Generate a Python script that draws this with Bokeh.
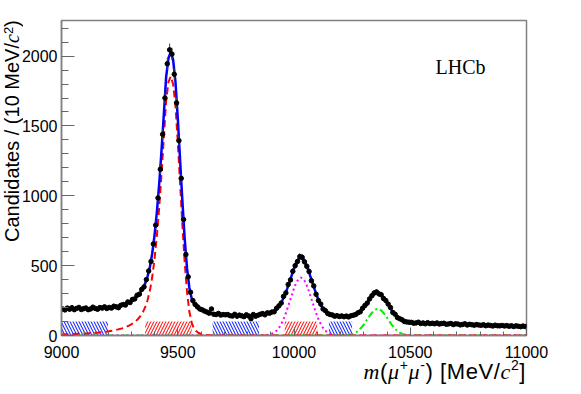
import math
from bokeh.plotting import figure
from bokeh.models import Label, SingleIntervalTicker, Range1d, Div
from bokeh.layouts import column
from bokeh.embed import file_html
from bokeh.resources import INLINE

# ---------------- data ----------------
bin_centers = list(range(9005, 11000, 10))
data_counts = [
    190, 183, 196, 188, 199, 185, 194, 201, 186, 192,
    197, 185, 190, 203, 194, 188, 200, 196, 205, 193,
    201, 196, 210, 205, 199, 216, 222, 218, 240, 236,
    258, 262, 288, 296, 330, 348, 400, 462, 530, 655,
    790, 985, 1190, 1440, 1700, 1945, 2045, 2015, 1870, 1665,
    1395, 1125, 830, 580, 420, 310, 250, 222, 205, 190,
    184, 175, 168, 160, 190, 152, 150, 158, 146, 150,
    148, 150, 142, 139, 152, 138, 146, 141, 135, 148,
    140, 120, 150, 138, 145, 152, 157, 148, 162, 160,
    168, 170, 195, 212, 232, 280, 305, 365, 398, 460,
    500, 530, 565, 560, 528, 495, 458, 392, 355, 295,
    250, 225, 190, 178, 158, 150, 147, 138, 142, 136,
    140, 134, 139, 133, 141, 145, 150, 162, 170, 195,
    215, 232, 262, 285, 305, 312, 298, 292, 265, 250,
    225, 200, 165, 152, 128, 120, 112, 100, 97, 95,
    94, 88, 90, 95, 86, 90, 84, 92, 85, 88,
    84, 90, 82, 86, 88, 80, 83, 86, 78, 84,
    82, 76, 79, 84, 75, 80, 77, 74, 78, 75,
    73, 77, 70, 75, 72, 68, 74, 70, 69, 72,
    68, 71, 66, 70, 64, 69, 66, 63, 68, 64,
]

fit_x = list(range(9000, 11001, 10))
fit_total = [
    195, 194, 194, 193, 193, 193, 192, 192, 192, 192,
    192, 192, 192, 192, 193, 193, 194, 195, 196, 197,
    199, 201, 204, 207, 211, 215, 220, 226, 233, 241,
    250, 261, 274, 290, 310, 337, 373, 422, 490, 585,
    715, 880, 1080, 1320, 1580, 1850, 1985, 2030, 1975, 1820,
    1560, 1260, 960, 690, 480, 340, 265, 225, 204, 192,
    183, 176, 170, 165, 161, 158, 155, 152, 150, 148,
    147, 146, 145, 144, 144, 143, 143, 143, 143, 143,
    143, 143, 144, 145, 146, 147, 149, 151, 154, 157,
    160, 168, 180, 198, 222, 252, 288, 332, 380, 430,
    481, 522, 549, 557, 548, 520, 478, 425, 376, 325,
    277, 238, 205, 182, 166, 155, 148, 143, 140, 139,
    137, 137, 136, 136, 137, 140, 144, 153, 165, 181,
    200, 224, 247, 269, 287, 300, 302, 297, 280, 260,
    234, 208, 181, 159, 140, 125, 113, 106, 101, 96,
    93, 92, 90, 90, 89, 88, 88, 87, 87, 86,
    86, 85, 85, 84, 84, 83, 83, 82, 82, 81,
    80, 80, 79, 79, 78, 78, 77, 77, 76, 76,
    75, 75, 74, 73, 73, 72, 72, 71, 71, 70,
    70, 69, 69, 68, 68, 67, 67, 66, 66, 65,
    65,
]
fit_1s = [
    8, 8, 9, 9, 10, 10, 11, 12, 12, 13,
    14, 15, 16, 17, 18, 20, 21, 23, 25, 27,
    29, 32, 35, 38, 42, 46, 51, 57, 63, 71,
    80, 91, 104, 120, 140, 167, 203, 252, 320, 415,
    545, 710, 910, 1150, 1410, 1680, 1815, 1855, 1800, 1650,
    1390, 1090, 790, 520, 310, 170, 90, 50, 30, 18,
    11, 7, 4, 2, 1,
] + [0] * 136
fit_2s = [0] * 87 + [
    1, 2, 5, 9, 16, 27, 43, 66, 98, 137,
    185, 236, 286, 338, 379, 406, 415, 406, 379, 338,
    286, 236, 185, 137, 98, 66, 43, 27, 16, 9,
    5, 2, 1,
] + [0] * 81
fit_3s = [0] * 121 + [
    1, 2, 3, 6, 10, 16, 26, 40, 57, 78,
    103, 128, 152, 171, 186, 190, 186, 171, 152, 128,
    103, 78, 57, 40, 26, 16, 10, 6, 3, 1,
    1,
] + [0] * 49

# signal / sideband windows
sideband_lo = [9000, 9650, 10150]
sideband_hi = [9200, 9850, 10250]
signal_lo = [9360, 9960]
signal_hi = [9560, 10100]
band_height = 100

x_ticks_interval = 500
y_ticks_interval = 500

W, H = 581, 394

# ---------------- figure ----------------
p = figure(width=W, height=H, output_backend="svg", toolbar_location=None,
           x_range=Range1d(9000, 11000), y_range=Range1d(0, 2255),
           min_border_left=61, min_border_right=55, min_border_top=20,
           min_border_bottom=59)
p.grid.visible = False
p.outline_line_color = "#808080"
p.outline_line_width = 1.5
p.background_fill_color = "white"
p.border_fill_color = "white"

for ax, tin, tmin in ((p.xaxis[0], 8, 4), (p.yaxis[0], 13, 7)):
    ax.major_tick_in = tin
    ax.major_tick_out = 0
    ax.minor_tick_in = tmin
    ax.minor_tick_out = 0
    ax.axis_line_color = "#808080"
    ax.axis_line_width = 1.5
    ax.major_tick_line_color = "#666666"
    ax.minor_tick_line_color = "#666666"
    ax.major_label_text_font = "Liberation Sans"
    ax.major_label_text_font_size = "16px"
    ax.major_label_text_color = "black"

p.xaxis.ticker = SingleIntervalTicker(interval=x_ticks_interval, num_minor_ticks=5)
p.yaxis.ticker = SingleIntervalTicker(interval=y_ticks_interval, num_minor_ticks=5)
p.xaxis.major_label_standoff = 10
p.yaxis.major_label_standoff = 4

# hatched windows
p.quad(left=sideband_lo, right=sideband_hi, bottom=[0] * 3, top=[band_height] * 3,
       fill_alpha=0, line_alpha=0, hatch_pattern="\\", hatch_color="#2030ff",
       hatch_alpha=1.0, hatch_scale=6, hatch_weight=1.1)
p.quad(left=signal_lo, right=signal_hi, bottom=[0] * 2, top=[band_height] * 2,
       fill_alpha=0, line_alpha=0, hatch_pattern="/", hatch_color="#ff2020",
       hatch_alpha=1.0, hatch_scale=6, hatch_weight=1.1)

# fit components
p.line(fit_x, fit_3s, line_color="#00ee00", line_width=2, line_dash="7 3 2 3")
p.line(fit_x, fit_2s, line_color="#ff00ff", line_width=2, line_dash="2 3")
p.line(fit_x, fit_1s, line_color="#ff0000", line_width=2, line_dash="7 4")
p.line(fit_x, fit_total, line_color="#0000ff", line_width=2.5)

# data with errors
err_lo = [c - math.sqrt(c) for c in data_counts]
err_hi = [c + math.sqrt(c) for c in data_counts]
p.segment(x0=bin_centers, y0=err_lo, x1=bin_centers, y1=err_hi,
          line_color="#444444", line_width=1)
p.scatter(bin_centers, data_counts, size=4.5, color="black")

# LHCb label
p.add_layout(Label(x=10609, y=1840, text="LHCb", text_font="Liberation Serif",
                   text_font_size="20px", text_color="black"))

# ---------------- axis titles (rich text) ----------------
SERIF = "font-family:'Liberation Serif';font-style:italic;"
SUP = "font-size:14px;vertical-align:9px;line-height:0;"
x_title_html = (
    "<div style=\"width:526px;font-family:'Liberation Sans';font-size:22px;"
    "line-height:15px;letter-spacing:0.6px;text-align:right;white-space:nowrap;color:black;\">"
    f"<span style=\"{SERIF}\">m</span>(<span style=\"{SERIF}\">&mu;</span>"
    f"<span style=\"{SUP}\">+</span><span style=\"{SERIF}\">&mu;</span>"
    f"<span style=\"{SUP}\">-</span>) [MeV/<span style=\"{SERIF}\">c</span>"
    f"<span style=\"{SUP}\">2</span>]</div>"
)
y_title_html = (
    "<div style=\"width:20px;height:320px;writing-mode:vertical-rl;transform:rotate(180deg);"
    "font-family:'Liberation Sans';font-size:20px;line-height:20px;white-space:nowrap;"
    "text-align:end;margin-top:20px;margin-left:2px;color:black;\">"
    f"Candidates / (10 MeV/<span style=\"{SERIF}\">c</span>"
    "<span style=\"font-size:13px;position:relative;left:3px;\">2</span>)</div>"
)
div_x = Div(text=x_title_html, width=W, height=30, margin=(-30, 0, 0, 0))
div_y = Div(text=y_title_html, width=24, height=H, margin=(-H, 0, 0, 0))

layout = column(p, div_x, div_y, spacing=0)

open("out.html", "w").write(file_html(layout, INLINE))
